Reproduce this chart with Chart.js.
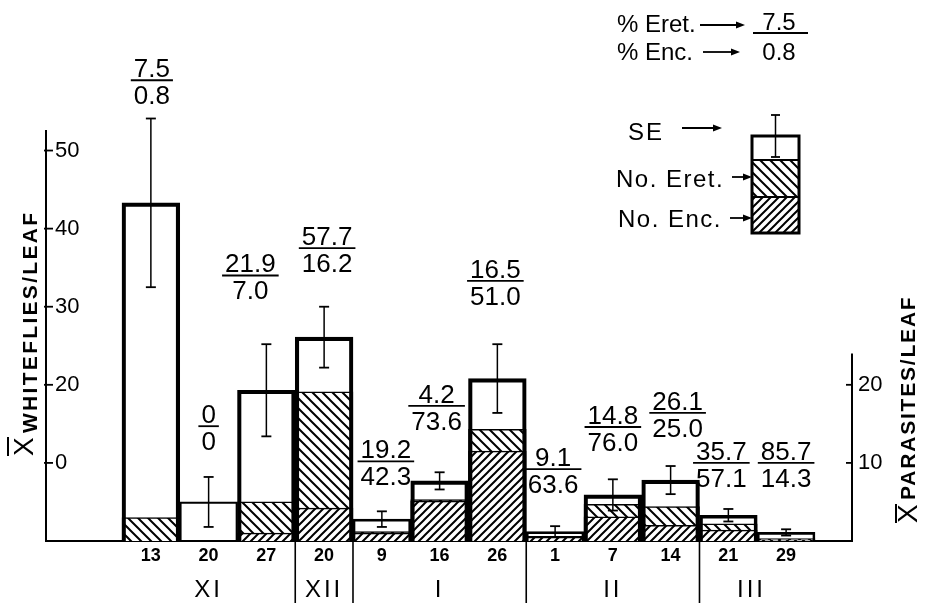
<!DOCTYPE html>
<html lang="en">
<head>
<meta charset="UTF-8">
<title>Whiteflies and parasites per leaf</title>
<script src="https://cdn.jsdelivr.net/npm/chart.js"></script>
<style>
    body {
        margin: 0;
        background: #fff;
    }
    #chart {
        display: block;
    }
</style>
</head>
<body>
<canvas id="chart" width="925" height="603"></canvas>
<script>
    // sampling dates (day of month) and the months they fall in
    const days = ["13", "20", "27", "20", "9", "16", "26", "1", "7", "14", "21", "29"];
    const months = ["XI", "XII", "I", "II", "III"];

    // mean whiteflies per leaf and its SE
    const whiteflies = [43.3, 5.0, 19.3, 26.1, 2.8, 7.7, 20.8, 1.2, 5.9, 7.8, 3.3, 1.1];
    const whitefliesSE = [10.8, 3.2, 5.9, 3.9, 1.0, 1.1, 4.4, 0.7, 2.0, 1.8, 0.8, 0.4];

    // mean parasites per leaf
    const encarsia = [0, 0, 1.0, 4.2, 1.0, 5.1, 11.5, 0.5, 3.1, 2.0, 1.4, 0.1];
    const eretmocerus = [3.0, 0, 4.0, 14.9, 0.2, 0.2, 2.8, 0.1, 1.6, 2.4, 0.8, 0.2];

    // % parasitism, Eretmocerus over Encarsia
    const pctEret = ["7.5", "0", "21.9", "57.7", "19.2", "4.2", "16.5", "9.1", "14.8", "26.1", "35.7", "85.7"];
    const pctEnc = ["0.8", "0", "7.0", "16.2", "42.3", "73.6", "51.0", "63.6", "76.0", "25.0", "57.1", "14.3"];

    // axis ticks
    const leftTicks = [10, 20, 30, 40, 50];
    const leftTickLabels = ["0", "20", "30", "40", "50"];
    const rightTicks = [10, 20];
    const rightTickLabels = ["10", "20"];

    // --- layout bits (not data) ---
    const monthPos = [1, 3, 5, 8, 10.4];          // in bar index units
    const monthBreaks = [2.5, 3.5, 6.5, 9.5];
    // [x shift px, height of fraction bar in axis units]
    const fracPlace = [[1, 59.0], [0, 14.7], [-16, 34.0], [3, 37.5], [4, 10.2], [-3, 17.3],
                       [-2, 33.3], [-2, 9.2], [0, 14.6], [7, 16.4], [-7, 10.0], [0, 10.0]];
    const outline = [3.5, 1.5, 3.5, 3.5, 2, 3.5, 3.5, 2, 3.5, 3.5, 3, 2];

    const FONT = '"Liberation Sans", Arial, sans-serif';
    const canvas = document.getElementById("chart");
    const ctx = canvas.getContext("2d");

    function hatch(size, dir) {
        const c = document.createElement("canvas");
        c.width = c.height = size;
        const g = c.getContext("2d");
        g.fillStyle = "#fff";
        g.fillRect(0, 0, size, size);
        g.strokeStyle = "#000";
        g.lineWidth = 2;
        g.beginPath();
        if (dir === "/") {
            g.moveTo(0, size); g.lineTo(size, 0);
            g.moveTo(-size / 2, size / 2); g.lineTo(size / 2, -size / 2);
            g.moveTo(size / 2, size * 1.5); g.lineTo(size * 1.5, size / 2);
        } else {
            g.moveTo(0, 0); g.lineTo(size, size);
            g.moveTo(-size / 2, size / 2); g.lineTo(size / 2, size * 1.5);
            g.moveTo(size / 2, -size / 2); g.lineTo(size * 1.5, size / 2);
        }
        g.stroke();
        return ctx.createPattern(c, "repeat");
    }
    const eretFill = hatch(10, "\\");
    const encFill = hatch(8, "/");

    const pts = arr => arr.map((v, i) => ({ x: i, y: v }));

    function line(c, x1, y1, x2, y2, w) {
        c.lineWidth = w || 1.5;
        c.beginPath();
        c.moveTo(x1, y1);
        c.lineTo(x2, y2);
        c.stroke();
    }

    function arrow(c, x1, x2, y) {
        line(c, x1, y, x2 - 6, y, 1.8);
        c.beginPath();
        c.moveTo(x2, y);
        c.lineTo(x2 - 9, y - 3.5);
        c.lineTo(x2 - 9, y + 3.5);
        c.closePath();
        c.fill();
    }

    function txt(c, s, x, y, font, align, spacing) {
        c.save();
        c.font = font;
        c.textAlign = align || "center";
        c.textBaseline = "alphabetic";
        if (spacing) c.letterSpacing = spacing + "px";
        c.fillText(s, x, y);
        c.restore();
    }

    function vtxt(c, s, x, y, font, spacing) {
        c.save();
        c.translate(x, y);
        c.rotate(-Math.PI / 2);
        txt(c, s, 0, 0, font, "left", spacing);
        c.restore();
    }

    const extras = {
        id: "extras",
        afterDraw(chart) {
            const c = chart.ctx;
            const x = chart.scales.x;
            const y = chart.scales.y;
            c.save();
            c.strokeStyle = "#000";
            c.fillStyle = "#000";

            // error bars
            whiteflies.forEach((m, i) => {
                const px = x.getPixelForValue(i);
                const y1 = y.getPixelForValue(m + whitefliesSE[i]);
                const y2 = y.getPixelForValue(Math.max(m - whitefliesSE[i], 0));
                line(c, px, y1, px, y2, 1.5);
                line(c, px - 5, y1, px + 5, y1, 1.8);
                line(c, px - 5, y2, px + 5, y2, 1.8);
            });

            // left tick marks, right axis
            leftTicks.forEach(v => line(c, x.left - 2, y.getPixelForValue(v), x.left + 7, y.getPixelForValue(v), 1.8));
            line(c, x.right, y.getPixelForValue(24), x.right, y.getPixelForValue(0), 2);
            rightTicks.forEach(v => line(c, x.right - 6, y.getPixelForValue(v), x.right, y.getPixelForValue(v), 1.8));

            // % parasitism fractions
            const ff = "26px " + FONT;
            c.font = ff;
            pctEret.forEach((top, i) => {
                const cx = x.getPixelForValue(i) + fracPlace[i][0];
                const ly = y.getPixelForValue(fracPlace[i][1]);
                const w = Math.max(c.measureText(top).width, c.measureText(pctEnc[i]).width) + 6;
                line(c, cx - w / 2, ly, cx + w / 2, ly, 1.8);
                txt(c, top, cx, ly - 3, ff);
                txt(c, pctEnc[i], cx, ly + 24, ff);
            });

            // dates, months and month dividers
            days.forEach((d, i) => txt(c, d, x.getPixelForValue(i), y.bottom + 20, "bold 18px " + FONT));
            months.forEach((m, i) => txt(c, m, x.getPixelForValue(monthPos[i]), y.bottom + 56, "24px " + FONT, "center", 3));
            monthBreaks.forEach(b => {
                const px = x.getPixelForValue(b);
                line(c, px, y.bottom, px, chart.height, 1.6);
            });

            // axis titles
            vtxt(c, "WHITEFLIES/LEAF", 37, 433, "bold 21px " + FONT, 2.3);
            vtxt(c, "X", 33, 456, "28px " + FONT);
            line(c, 8, 437, 8, 456, 2);
            vtxt(c, "PARASITES/LEAF", 915, 500, "bold 21px " + FONT, 1.8);
            vtxt(c, "X", 917, 523, "28px " + FONT);
            line(c, 896, 504, 896, 523, 2);

            // key, top right
            txt(c, "% Eret.", 617, 32, "24px " + FONT, "left");
            arrow(c, 700, 745, 25);
            txt(c, "7.5", 779, 30, "24px " + FONT);
            line(c, 753, 33, 808, 33, 1.8);
            txt(c, "0.8", 779, 60, "24px " + FONT);
            txt(c, "% Enc.", 617, 60, "24px " + FONT, "left");
            arrow(c, 703, 740, 52);

            c.fillStyle = encFill;
            c.fillRect(752, 197, 47, 36);
            c.fillStyle = eretFill;
            c.fillRect(752, 160, 47, 37);
            c.fillStyle = "#000";
            line(c, 752, 160, 799, 160, 2);
            line(c, 752, 197, 799, 197, 2);
            c.lineWidth = 3;
            c.strokeRect(752, 136, 47, 97);
            line(c, 775.5, 115, 775.5, 157, 1.5);
            line(c, 771, 115, 780, 115, 1.8);
            line(c, 771, 157, 780, 157, 1.8);
            txt(c, "SE", 628, 140, "24px " + FONT, "left", 2);
            arrow(c, 682, 722, 128);
            txt(c, "No. Eret.", 616, 187, "24px " + FONT, "left", 1.5);
            arrow(c, 732, 752, 177);
            txt(c, "No. Enc.", 618, 227, "24px " + FONT, "left", 1.5);
            arrow(c, 730, 752, 218);

            c.restore();
        }
    };

    new Chart(ctx, {
        type: "bar",
        data: {
            datasets: [
                {
                    label: "Whiteflies",
                    data: pts(whiteflies),
                    backgroundColor: "rgba(0,0,0,0)",
                    borderColor: "#000",
                    borderWidth: outline,
                    order: 1
                },
                {
                    label: "No. Eret.",
                    data: pts(encarsia.map((v, i) => v + eretmocerus[i])),
                    backgroundColor: eretFill,
                    borderColor: "#000",
                    borderWidth: 1.5,
                    order: 3
                },
                {
                    label: "No. Enc.",
                    data: pts(encarsia),
                    backgroundColor: encFill,
                    borderColor: "#000",
                    borderWidth: 1.5,
                    order: 2
                }
            ]
        },
        options: {
            responsive: false,
            animation: false,
            devicePixelRatio: 1,
            grouped: false,
            barPercentage: 1,
            categoryPercentage: 1,
            layout: { padding: { left: 46, right: 0, top: 131, bottom: 62 } },
            plugins: {
                legend: { display: false },
                tooltip: { enabled: false }
            },
            scales: {
                x: {
                    type: "linear",
                    min: -1.816,
                    max: 12.141,
                    offset: false,
                    afterBuildTicks: s => { s.ticks = days.map((d, i) => ({ value: i })); },
                    afterFit: s => { s.height = 0; },
                    ticks: { display: false },
                    grid: { display: false, drawTicks: false },
                    border: { display: true, color: "#000", width: 2 }
                },
                y: {
                    min: 0,
                    max: 52.5,
                    afterBuildTicks: s => { s.ticks = leftTicks.map(v => ({ value: v })); },
                    afterFit: s => { s.width = 0; },
                    ticks: {
                        mirror: true,
                        padding: 9,
                        color: "#000",
                        font: { family: FONT, size: 22 },
                        callback: (v, i) => leftTickLabels[i]
                    },
                    grid: { display: false, drawTicks: false },
                    border: { display: true, color: "#000", width: 2 }
                },
                y2: {
                    position: "right",
                    min: 0,
                    max: 52.5,
                    afterBuildTicks: s => { s.ticks = rightTicks.map(v => ({ value: v })); },
                    afterFit: s => { s.width = 73; },
                    ticks: {
                        padding: 6,
                        color: "#000",
                        font: { family: FONT, size: 22 },
                        callback: (v, i) => rightTickLabels[i]
                    },
                    grid: { display: false, drawTicks: false },
                    border: { display: false }
                }
            }
        },
        plugins: [extras]
    });
</script>
</body>
</html>
